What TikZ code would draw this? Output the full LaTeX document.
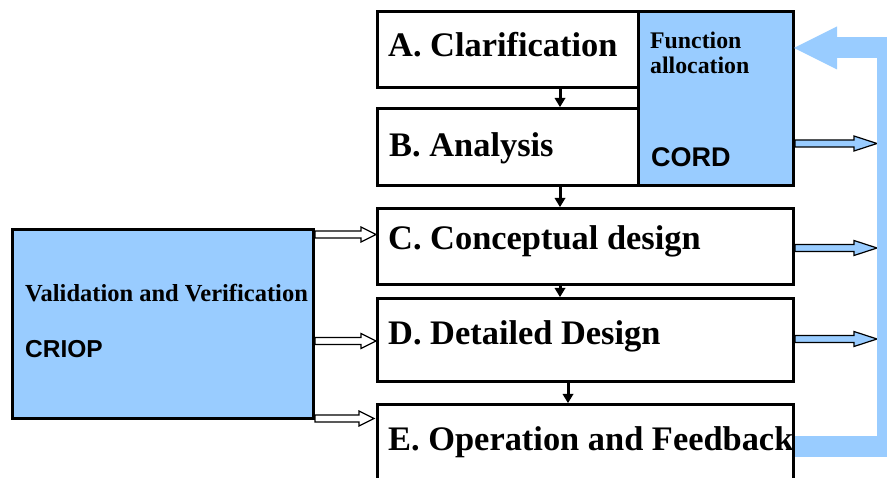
\documentclass[tikz,border=0pt]{standalone}
\usepackage{fontspec}
\setmainfont{Liberation Serif}
\newfontfamily\arialfont{Liberation Sans}
\usetikzlibrary{arrows.meta,calc}
\definecolor{lblue}{HTML}{99CCFF}

\begin{document}
\begin{tikzpicture}[x=1pt,y=-1pt,
  box/.style={draw=black, line width=3pt, fill=white, inner sep=0pt, anchor=north west},
  bluebox/.style={box, fill=lblue},
  lbl/.style={anchor=base west, inner sep=0pt, font=\fontsize{34.4}{40}\selectfont\bfseries},
  sublbl/.style={anchor=base west, inner sep=0pt, font=\fontsize{23.8}{25}\selectfont\bfseries},
  acro/.style={anchor=base west, inner sep=0pt, font=\fontsize{27}{28}\arialfont\bfseries},
  flow/.style={draw=black, line width=3pt, -{Triangle[length=9pt,width=11pt,line width=0pt]}},
  hollow/.style={draw=black, line width=1.2pt, fill=white, line join=miter,
    to path={let \p1=(\tikztostart), \p2=(\tikztotarget) in
      (\x1,\y1+3.5pt) -- (\x2-15pt,\y1+3.5pt) -- (\x2-15pt,\y1+7.5pt) -- (\x2,\y1)
      -- (\x2-15pt,\y1-7.5pt) -- (\x2-15pt,\y1-3.5pt) -- (\x1,\y1-3.5pt) -- cycle}},
  bluefat/.style={draw=black, line width=1.2pt, fill=lblue, line join=miter,
    to path={let \p1=(\tikztostart), \p2=(\tikztotarget) in
      (\x1,\y1+3.5pt) -- (\x2-23pt,\y1+3.5pt) -- (\x2-23pt,\y1+7.5pt) -- (\x2,\y1)
      -- (\x2-23pt,\y1-7.5pt) -- (\x2-23pt,\y1-3.5pt) -- (\x1,\y1-3.5pt) -- cycle}},
  feedback/.style={draw=lblue, line width=21pt, line join=miter,
    -{Triangle[length=43pt,width=43pt,line width=0pt]}}
]
\clip (0,0) rectangle (887,478);

% boxes
\node[box, minimum width=261pt, minimum height=76pt] (A) at (376,10) {};
\node[box, minimum width=261pt, minimum height=77pt] (B) at (376,107) {};
\node[bluebox, minimum width=155pt, minimum height=174pt] (F) at (637,10) {};
\node[box, minimum width=416pt, minimum height=76pt] (C) at (376,207) {};
\node[box, minimum width=416pt, minimum height=83pt] (D) at (376,297) {};
\node[box, minimum width=416pt, minimum height=110pt] (E) at (376,403) {};
\node[bluebox, minimum width=301pt, minimum height=189pt] (VV) at (11,228) {};

% labels
\node[lbl] (tA) at (388,57) {A. Clarification};
\node[lbl] (tB) at (389,157) {B. Analysis};
\node[lbl] (tC) at (388,250) {C. Conceptual design};
\node[lbl] (tD) at (388,345) {D. Detailed Design};
\node[lbl] (tE) at (388,450) {E. Operation and Feedback};
\node[sublbl] (tF1) at (650,49) {Function};
\node[sublbl] (tF2) at (650,74) {allocation};
\node[acro] (tCORD) at (651,167) {CORD};
\node[sublbl, font=\fontsize{24.5}{25}\selectfont\bfseries] (tVV) at (25,302) {Validation and Verification};
\node[acro, font=\fontsize{24.5}{28}\arialfont\bfseries] (tCRIOP) at (25,358) {CRIOP};

% flow arrows between phases
\draw[flow] ([xshift=184pt]A.south west) -- ([xshift=184pt]B.north west);
\draw[flow] ([xshift=184pt]B.south west) -- ([xshift=184pt]C.north west);
\draw[flow] ([xshift=184pt]C.south west) -- ([xshift=184pt]D.north west);
\draw[flow] ([xshift=192pt]D.south west) -- ([xshift=192pt]E.north west);

% hollow arrows from V&V
\coordinate (l1) at ([yshift=12pt]C.west);
\coordinate (l2) at ([yshift=-1pt]D.west);
\coordinate (l3) at ([yshift=41pt,xshift=-2pt]E.west);
\path[hollow] (VV.east |- l1) to (l1);
\path[hollow] (VV.east |- l2) to (l2);
\path[hollow] (VV.east |- l3) to (l3);

% blue arrows to the right
\coordinate (r1) at (877,143.5);
\coordinate (r2) at (877,248);
\coordinate (r3) at (877,339);
\path[bluefat] (F.east |- r1) to (r1);
\path[bluefat] (C.east |- r2) to (r2);
\path[bluefat] (D.east |- r3) to (r3);

% feedback loop
\coordinate (fbstart) at ([yshift=13pt]E.east);
\coordinate (fbright) at (887,48);
\coordinate (fbtip) at (794,48);
\draw[feedback] (fbstart) -| (fbright) -- (fbtip);
\end{tikzpicture}
\end{document}
